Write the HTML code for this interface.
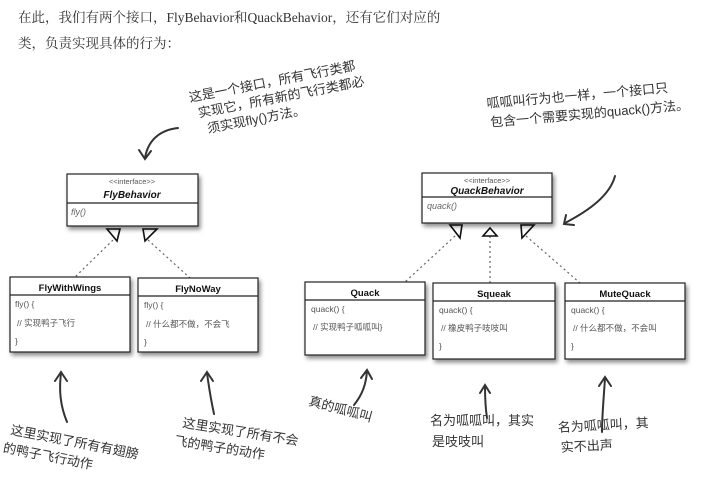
<!DOCTYPE html>
<html><head><meta charset="utf-8"><style>
html,body{margin:0;padding:0;background:#fff;}
svg{display:block}
text{font-family:"Liberation Sans","Noto Sans CJK SC",sans-serif;}
.h{font-family:"Liberation Serif","Noto Serif CJK SC",serif;fill:#333}
</style></head><body>
<svg width="706" height="482" viewBox="0 0 706 482" xmlns="http://www.w3.org/2000/svg">
<defs>
<filter id="sh" x="-10%" y="-10%" width="130%" height="140%"><feDropShadow dx="2" dy="3" stdDeviation="2" flood-color="#000" flood-opacity="0.45"/></filter>
</defs>
<rect width="706" height="482" fill="#fff"/>
<text x="18" y="22" font-size="13.5" fill="#222" class="h">在此，我们有两个接口，FlyBehavior和QuackBehavior，还有它们对应的</text>
<text x="18" y="48" font-size="13.5" fill="#222" class="h">类，负责实现具体的行为：</text>

<g class="h" font-size="13" fill="#444">
<g transform="rotate(-11 190 102)">
<text x="190" y="102">这是一个接口，所有飞行类都</text>
<text x="196" y="119">实现它，所有新的飞行类都必</text>
<text x="202" y="136">须实现fly()方法。</text>
</g>
<g transform="rotate(-5 487 108)">
<text x="487" y="108">呱呱叫行为也一样，一个接口只</text>
<text x="489" y="127">包含一个需要实现的quack()方法。</text>
</g>
</g>
<g fill="none" stroke="#333" stroke-width="2" stroke-linecap="round">
<path d="M178 128 C160 130 148 140 145 158"/><path d="M139 150 L145 159 L151 151"/>
<path d="M615 176 C610 195 590 210 565 223"/><path d="M566 215 L564 224 L574 225"/>
<path d="M67 422 C60 405 59 390 61 373"/><path d="M55 381 L61 372 L67 381"/>
<path d="M214 414 C211 400 209 388 207 373"/><path d="M201 381 L207 372 L213 381"/>
<path d="M354 405 C362 395 366 385 367 371"/><path d="M361 378 L367 370 L372 379"/>
<path d="M487 418 C485 405 485 395 485 386"/><path d="M480 393 L485 385 L490 393"/>
<path d="M602 432 C602 415 604 395 605 378"/><path d="M599 386 L605 377 L611 386"/>
</g>
<g class="h" font-size="13" fill="#444">
<g transform="rotate(11 10 434)"><text x="10" y="434">这里实现了所有有翅膀</text><text x="6" y="453">的鸭子飞行动作</text></g>
<g transform="rotate(9 182 427)"><text x="182" y="427">这里实现了所有不会</text><text x="177" y="446">飞的鸭子的动作</text></g>
<g transform="rotate(15 308 405)"><text x="308" y="405">真的呱呱叫</text></g>
<text x="430" y="425">名为呱呱叫，其实</text><text x="432" y="446">是吱吱叫</text>
<g transform="rotate(-3 558 432)"><text x="558" y="432">名为呱呱叫，其</text><text x="560" y="452">实不出声</text></g>
</g>

<g stroke="#666" stroke-width="1.2" stroke-dasharray="2 3" fill="none">
<path d="M113 240 L75 277"/><path d="M148 240 L190 278"/>
<path d="M455 236 L405 282"/><path d="M490 236 L490 283"/><path d="M526 236 L580 283"/>
</g>
<g fill="#fff" stroke="#111" stroke-width="1.6">
<path d="M107 229 L120 229 L117 241 Z"/><path d="M143 229 L157 229 L145 241 Z"/>
<path d="M450 225 L462 225 L460 238 Z"/><path d="M483 236 L497 236 L490 228 Z"/><path d="M521 225 L534 225 L522 238 Z"/>
</g>

<g filter="url(#sh)" fill="#fff" stroke="#222" stroke-width="1.2">
<rect x="67" y="174" width="131" height="52"/>
<rect x="422" y="173" width="130" height="50"/>
<rect x="10" y="277" width="120" height="75"/>
<rect x="138" y="278" width="120" height="74"/>
<rect x="305" y="282" width="120" height="73"/>
<rect x="433" y="283" width="122" height="76"/>
<rect x="565" y="283" width="120" height="76"/>
</g>
<g stroke="#222" stroke-width="1.2">
<line x1="67" y1="203" x2="198" y2="203"/>
<line x1="422" y1="197" x2="552" y2="197"/>
<line x1="10" y1="295" x2="130" y2="295"/>
<line x1="138" y1="296" x2="258" y2="296"/>
<line x1="305" y1="300" x2="425" y2="300"/>
<line x1="433" y1="301" x2="555" y2="301"/>
<line x1="565" y1="301" x2="685" y2="301"/>
</g>
<g font-size="7.5" fill="#555" text-anchor="middle">
<text x="132" y="184">&lt;&lt;interface&gt;&gt;</text>
<text x="487" y="183">&lt;&lt;interface&gt;&gt;</text>
</g>
<g font-size="10" font-weight="bold" font-style="italic" fill="#111" text-anchor="middle">
<text x="132" y="198">FlyBehavior</text>
<text x="487" y="194">QuackBehavior</text>
</g>
<g font-size="9" fill="#666" font-style="italic">
<text x="71" y="215">fly()</text>
<text x="427" y="209">quack()</text>
</g>
<g font-size="9.5" font-weight="bold" fill="#111" text-anchor="middle">
<text x="70" y="291">FlyWithWings</text>
<text x="198" y="292">FlyNoWay</text>
<text x="365" y="296">Quack</text>
<text x="494" y="297">Squeak</text>
<text x="625" y="297">MuteQuack</text>
</g>
<g font-size="8.5" fill="#555">
<text x="15" y="307">fly() {</text><text x="17" y="326">// 实现鸭子飞行</text><text x="15" y="344">}</text>
<text x="144" y="308">fly() {</text><text x="146" y="327">// 什么都不做，不会飞</text><text x="144" y="345">}</text>
<text x="311" y="312">quack() {</text><text x="313" y="330">// 实现鸭子呱呱叫}</text>
<text x="439" y="313">quack() {</text><text x="441" y="331">// 橡皮鸭子吱吱叫</text><text x="439" y="349">}</text>
<text x="571" y="313">quack() {</text><text x="573" y="331">// 什么都不做，不会叫</text><text x="571" y="349">}</text>
</g>
</svg>
</body></html>
